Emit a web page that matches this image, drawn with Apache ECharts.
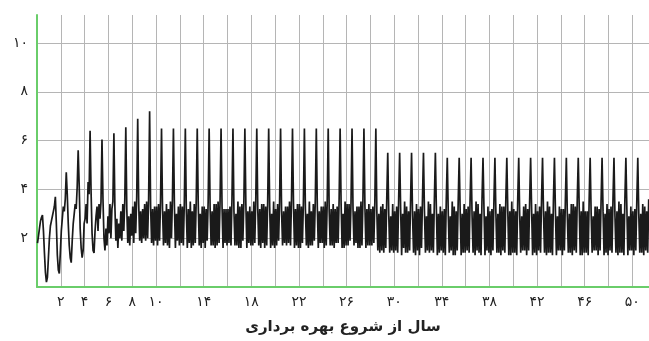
<!DOCTYPE html>
<html>
<head>
<meta charset="utf-8">
<script src="https://cdn.jsdelivr.net/npm/echarts@6/dist/echarts.min.js"></script>
<style>
html,body{margin:0;padding:0;background:#fff;}
#chart{width:649px;height:341px;}
</style>
</head>
<body>
<div id="chart"></div>
<script>
// Monthly values (12 per year, starting at year 0)
const startYears = [
  1.8, 2.1, 2.4, 2.7, 2.85, 2.95, 2.3, 1.4, 0.6, 0.2, 0.4, 1.2,
  2.0, 2.5, 2.7, 2.9, 3.1, 3.3, 3.7, 2.6, 1.3, 0.7, 0.55, 1.4,
  2.3, 2.8, 3.3, 3.1, 3.6, 4.7, 3.8, 2.6, 1.7, 1.2, 1.0, 1.9,
  2.6, 3.0, 3.4, 3.2, 4.1, 5.6, 4.2, 2.4, 1.6, 1.2, 1.5, 2.6,
  2.8, 3.4, 2.6, 4.3, 3.8, 6.4, 3.9, 2.2, 1.5, 1.4, 2.3, 2.9,
  3.3, 2.3, 3.4, 2.8, 3.5, 6.05, 3.6, 2.0, 1.5, 2.4, 1.7, 2.9,
  2.2, 3.4, 2.0, 3.2, 3.5, 6.3, 3.3, 1.9, 2.8, 1.6, 2.6, 2.0,
  3.1, 1.9, 3.4, 2.3, 3.6, 6.55, 3.2, 1.8, 2.9, 1.7, 3.0, 2.1,
  3.3, 1.8, 3.5, 2.2, 3.7, 6.9, 3.4, 1.9, 3.1, 1.8, 3.2, 2.0,
  3.4, 1.9, 3.5, 2.0, 3.6, 7.2, 3.3, 1.8, 3.2, 1.7, 3.3, 1.9
];
const stableYears = [
  3.3, 1.7, 3.4, 1.9, 3.5, 6.5, 3.2, 1.7, 3.1, 1.8, 3.4, 1.7,
  3.2, 1.6, 3.5, 2.0, 3.6, 6.5, 3.3, 1.6, 3.0, 1.9, 3.3, 1.7,
  3.4, 1.8, 3.3, 1.7, 3.5, 6.5, 3.1, 1.6, 3.2, 1.8, 3.5, 1.6,
  3.1, 1.7, 3.4, 1.8, 3.6, 6.5, 3.4, 1.7, 3.0, 1.6, 3.3, 1.8,
  3.3, 1.6, 3.2, 1.9, 3.5, 6.5, 3.2, 1.7, 3.1, 1.7, 3.4, 1.6,
  3.4, 1.7, 3.5, 1.8, 3.5, 6.5, 3.3, 1.6, 3.2, 1.8, 3.2, 1.7,
  3.2, 1.8, 3.3, 1.7, 3.6, 6.5, 3.1, 1.7, 3.0, 1.7, 3.5, 1.6,
  3.3, 1.6, 3.4, 1.9, 3.5, 6.5, 3.4, 1.6, 3.1, 1.8, 3.3, 1.7,
  3.1, 1.7, 3.5, 1.8, 3.6, 6.5, 3.2, 1.7, 3.2, 1.6, 3.4, 1.8,
  3.4, 1.6, 3.3, 1.7, 3.5, 6.5, 3.3, 1.6, 3.0, 1.7, 3.5, 1.6,
  3.2, 1.7, 3.4, 1.9, 3.5, 6.5, 3.1, 1.7, 3.1, 1.8, 3.3, 1.7,
  3.3, 1.8, 3.5, 1.7, 3.6, 6.5, 3.4, 1.6, 3.2, 1.7, 3.4, 1.6,
  3.4, 1.6, 3.3, 1.8, 3.5, 6.5, 3.2, 1.7, 3.0, 1.6, 3.5, 1.7,
  3.1, 1.7, 3.4, 1.9, 3.6, 6.5, 3.3, 1.6, 3.1, 1.8, 3.3, 1.8,
  3.3, 1.6, 3.5, 1.7, 3.5, 6.5, 3.1, 1.7, 3.2, 1.7, 3.4, 1.6,
  3.2, 1.8, 3.3, 1.8, 3.6, 6.5, 3.4, 1.6, 3.0, 1.6, 3.5, 1.7,
  3.4, 1.7, 3.4, 1.9, 3.5, 6.5, 3.2, 1.7, 3.1, 1.8, 3.3, 1.6,
  3.3, 1.6, 3.5, 1.7, 3.6, 6.5, 3.3, 1.6, 3.2, 1.7, 3.4, 1.7,
  3.2, 1.7, 3.3, 1.8, 3.5, 6.5, 3.1, 1.5, 3.0, 1.4, 3.3, 1.5
];
const lateYears = [
  3.4, 1.4, 3.2, 1.6, 3.6, 5.5, 3.0, 1.4, 2.9, 1.5, 3.4, 1.4,
  3.1, 1.5, 3.3, 1.4, 3.6, 5.5, 3.2, 1.3, 3.0, 1.6, 3.5, 1.4,
  3.3, 1.4, 3.1, 1.5, 3.5, 5.5, 2.9, 1.4, 3.1, 1.3, 3.4, 1.5,
  3.2, 1.3, 3.3, 1.6, 3.6, 5.5, 3.1, 1.4, 2.9, 1.5, 3.5, 1.4,
  3.4, 1.5, 3.0, 1.4, 3.6, 5.5, 3.2, 1.3, 3.0, 1.4, 3.3, 1.5,
  3.1, 1.4, 3.2, 1.3, 3.6, 5.3, 3.0, 1.4, 2.9, 1.5, 3.5, 1.3,
  3.3, 1.3, 3.1, 1.5, 3.5, 5.3, 3.1, 1.3, 3.0, 1.4, 3.4, 1.4,
  3.2, 1.5, 3.3, 1.4, 3.6, 5.3, 2.9, 1.4, 3.1, 1.3, 3.5, 1.5,
  3.4, 1.4, 3.0, 1.3, 3.6, 5.3, 3.2, 1.3, 2.9, 1.5, 3.3, 1.4,
  3.1, 1.3, 3.2, 1.5, 3.5, 5.3, 3.0, 1.4, 3.0, 1.4, 3.4, 1.3,
  3.3, 1.5, 3.3, 1.4, 3.6, 5.3, 3.1, 1.3, 3.1, 1.3, 3.5, 1.4,
  3.2, 1.4, 3.1, 1.3, 3.6, 5.3, 2.9, 1.4, 2.9, 1.5, 3.3, 1.5,
  3.4, 1.3, 3.2, 1.5, 3.5, 5.3, 3.2, 1.3, 3.0, 1.4, 3.4, 1.3,
  3.1, 1.5, 3.3, 1.4, 3.6, 5.3, 3.0, 1.4, 3.1, 1.3, 3.5, 1.4,
  3.3, 1.4, 3.0, 1.3, 3.6, 5.3, 3.1, 1.3, 2.9, 1.5, 3.3, 1.5,
  3.2, 1.3, 3.2, 1.5, 3.5, 5.3, 2.9, 1.4, 3.0, 1.4, 3.4, 1.3,
  3.4, 1.5, 3.3, 1.4, 3.6, 5.3, 3.2, 1.3, 3.1, 1.3, 3.5, 1.4,
  3.1, 1.4, 3.1, 1.3, 3.6, 5.3, 3.0, 1.4, 2.9, 1.5, 3.3, 1.5,
  3.3, 1.3, 3.2, 1.5, 3.5, 5.3, 3.1, 1.3, 3.0, 1.4, 3.4, 1.3,
  3.2, 1.5, 3.3, 1.4, 3.6, 5.3, 2.9, 1.4, 3.1, 1.3, 3.5, 1.4,
  3.4, 1.4, 3.0, 1.3, 3.6, 5.3, 3.2, 1.3, 2.9, 1.5, 3.3, 1.5,
  3.1, 1.3, 3.2, 1.5, 3.5, 5.3, 3.0, 1.4, 3.0, 1.4, 3.4, 1.3,
  3.3, 1.5, 3.1, 1.4, 3.6
];
const monthsPerYear = 12;
const xTickLabels = [2, 4, 6, 8, 10, 14, 18, 22, 26, 30, 34, 38, 42, 46, 50];
const yTickLabels = [2, 4, 6, 8, 10];
const xTitle = 'سال از شروع بهره برداری';

const faDigits = '۰۱۲۳۴۵۶۷۸۹';
function toFa(n) { return String(n).replace(/[0-9]/g, d => faDigits[+d]); }

const allValues = startYears.concat(stableYears, lateYears);
const seriesData = allValues.map((v, i) => [(i + 0.5) / monthsPerYear, v]);

const green = '#6acd6a';
const gridGray = '#b5b5b5';
const fontFam = '"DejaVu Sans", sans-serif';

const chart = echarts.init(document.getElementById('chart'), null, {renderer: 'canvas'});
chart.setOption({
  animation: false,
  backgroundColor: '#ffffff',
  grid: {left: 37, right: 0, top: 15, bottom: 54, containLabel: false},
  xAxis: {
    type: 'value', min: 0, max: 51.4, interval: 2,
    axisLine: {show: true, lineStyle: {color: green, width: 2}},
    axisTick: {show: false},
    axisLabel: {
      show: true, margin: 8, color: '#222', fontSize: 14, fontFamily: fontFam,
      showMaxLabel: false,
      formatter: v => xTickLabels.indexOf(v) >= 0 ? toFa(v) : ''
    },
    splitLine: {show: true, showMinLine: false, showMaxLine: false, lineStyle: {color: gridGray, width: 1}},
    name: xTitle, nameLocation: 'middle', nameGap: 33,
    nameTextStyle: {color: '#222', fontSize: 15, fontWeight: 'bold', fontFamily: fontFam}
  },
  yAxis: {
    type: 'value', min: 0, max: 11.15, interval: 2,
    axisLine: {show: true, lineStyle: {color: green, width: 2}},
    axisTick: {show: false},
    axisLabel: {
      show: true, margin: 9, color: '#222', fontSize: 14, fontFamily: fontFam,
      showMaxLabel: false,
      formatter: v => yTickLabels.indexOf(v) >= 0 ? toFa(v) : ''
    },
    splitLine: {show: true, showMinLine: false, showMaxLine: false, lineStyle: {color: gridGray, width: 1}}
  },
  series: [{
    type: 'line',
    data: seriesData,
    showSymbol: false,
    symbol: 'none',
    lineStyle: {color: '#1a1a1a', width: 1.7},
    z: 5
  }]
});
</script>
</body>
</html>
